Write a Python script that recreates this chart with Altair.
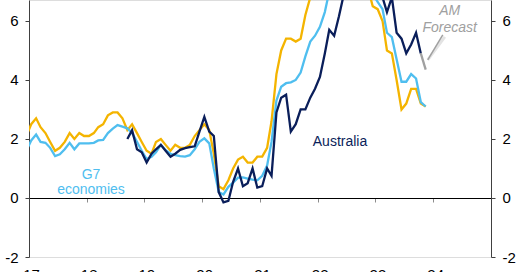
import altair as alt
import pandas as pd

# ---------------- data ----------------
months = pd.date_range("2016-12-01", "2023-11-01", freq="MS").strftime("%Y-%m").tolist()

# yellow series
us = [2.1,
      2.5, 2.7, 2.4, 2.2, 1.9, 1.6, 1.7, 1.9, 2.2, 2.0, 2.2, 2.1,
      2.1, 2.2, 2.4, 2.5, 2.8, 2.9, 2.9, 2.7, 2.3, 2.5, 2.2, 1.9,
      1.6, 1.5, 1.9, 2.0, 1.8, 1.6, 1.8, 1.7, 1.7, 1.8, 2.1, 2.3,
      2.5, 2.3, 1.5, 0.4, 0.3, 0.6, 1.0, 1.3, 1.4, 1.2, 1.2, 1.4,
      1.4, 1.7, 2.6, 4.2, 5.0, 5.4, 5.4, 5.3, 5.4, 6.2, 6.8, 7.0,
      7.5, 7.9, 8.5, 8.3, 8.6, 9.1, 8.5, 8.3, 8.2, 7.7, 7.1, 6.5,
      6.4, 6.0, 5.0, 4.9, 4.0, 3.0, 3.2, 3.7, 3.7, 3.2, 3.1]

# G7 economies
g7 = [1.6,
      1.95, 2.15, 1.9, 1.87, 1.7, 1.42, 1.48, 1.65, 1.87, 1.65, 1.85, 1.85,
      1.85, 1.87, 1.95, 1.97, 2.2, 2.35, 2.47, 2.42, 2.36, 2.2, 1.9, 1.6,
      1.32, 1.4, 1.55, 1.8, 1.62, 1.5, 1.45, 1.42, 1.4, 1.45, 1.65, 1.9,
      2.02, 1.85, 1.0, 0.2, 0.12, 0.38, 0.52, 0.69, 0.7, 0.66, 0.62, 0.6,
      0.75, 1.1, 1.9, 3.3, 3.77, 3.89, 3.92, 4.0, 4.25, 4.8, 5.3, 5.5,
      5.8, 6.3, 7.0, 7.4, 7.6, 8.0, 7.9, 7.6, 7.8, 7.7, 7.2, 6.9,
      6.65, 6.4, 5.6, 5.45, 4.7, 3.94, 3.94, 4.2, 4.05, 3.25, 3.1]

# Australia (monthly CPI indicator)
aus = [None] * 21 + [2.0, 2.3, 1.65, 1.55,
       1.2, 1.5, 1.65, 1.8, 1.6, 1.4, 1.5, 1.63, 1.69, 1.72, 1.75, 2.25,
       2.75, 2.25, 2.1, 0.2, -0.15, -0.1, 0.55, 1.0, 0.4, 0.5, 1.0, 0.35,
       0.4, 1.0, 0.75, 2.9, 3.4, 3.5, 2.25, 2.5, 3.0, 3.0, 3.4, 3.7,
       4.1, 4.9, 5.7, 5.5, 6.15, 6.9, 7.0, 6.8, 7.3, 6.9, 7.3, 8.4,
       7.4, 6.8, 6.3, 6.8, 5.6, 5.4, 4.9, 5.2, 5.6, 4.9, None]

forecast_months = ["2023-10", "2023-11"]
forecast_values = [4.9, 4.35]

tick_years = [2017, 2018, 2019, 2020, 2021, 2022, 2023, 2024]
y_ticks = [-2, 0, 2, 4, 6]

ann_text = ["AM", "Forecast"]
ann_date = ["2024-04-15", "2024-04-15"]
ann_value = [6.2, 5.63]
ptr_date = ["2024-03-02"]
ptr_date2 = ["2023-11-28"]
ptr_value = [5.53]
ptr_value2 = [4.68]

aus_label = ["Australia"]
aus_label_date = ["2022-05-22"]
aus_label_value = [1.76]
g7_label = ["G7", "economies"]
g7_label_date = ["2018-01-28", "2018-01-28"]
g7_label_value = [0.66, 0.14]

# ---------------- build ----------------
FONT = "Liberation Sans"
NAVY = "#0A1E5A"
BLUE = "#4FBEEF"
GOLD = "#F4B400"
GREY = "#a0a0a0"

def mid(m):
    return m + "-15T00:00:00"

df = pd.DataFrame({"date": [mid(m) for m in months], "us": us, "g7": g7, "aus": aus})
fc = pd.DataFrame({"date": [mid(m) for m in forecast_months], "value": forecast_values})
ann = pd.DataFrame({"date": [d + "T00:00:00" for d in ann_date], "value": ann_value, "text": ann_text})
ptr = pd.DataFrame({"date": [d + "T00:00:00" for d in ptr_date], "date2": [d + "T00:00:00" for d in ptr_date2],
                    "value": ptr_value, "value2": ptr_value2})
lab_a = pd.DataFrame({"date": [d + "T00:00:00" for d in aus_label_date], "value": aus_label_value, "text": aus_label})
lab_g = pd.DataFrame({"date": [d + "T00:00:00" for d in g7_label_date], "value": g7_label_value, "text": g7_label})

x_axis = alt.Axis(
    values=[alt.DateTime(year=y, month=1, date=1) for y in tick_years],
    format="%y", offset=-59, domainColor="#000000", domainWidth=1,
    tickColor="#8c8c8c", tickSize=4, labelPadding=65, labelFontSize=15,
    labelColor="#000000", labelFont=FONT, labelFlush=False, labelOverlap=False,
    labelOffset=2, grid=False, title=None)
x_scale = alt.Scale(domain=[alt.DateTime(year=2017, month=1, date=1),
                            alt.DateTime(year=2025, month=1, date=1)])

def X(field="date"):
    return alt.X(f"{field}:T", scale=x_scale, axis=x_axis, title=None)

y_scale = alt.Scale(domain=[-2, 6.71], nice=False, zero=False)

def Y(field, orient="left"):
    return alt.Y(f"{field}:Q", scale=y_scale, title=None,
                 axis=alt.Axis(values=y_ticks, orient=orient, domainColor="#404040",
                               tickColor="#404040", tickSize=4, labelPadding=7,
                               labelFontSize=15, labelColor="#000000", labelFont=FONT,
                               labelExpr="'' + datum.value",
                               grid=False, title=None))

base = alt.Chart(df)
l_us = base.mark_line(color=GOLD, strokeWidth=2.3, clip=True).encode(x=X(), y=Y("us"))
l_g7 = base.mark_line(color=BLUE, strokeWidth=2.3, clip=True).encode(x=X(), y=Y("g7"))
l_au = base.mark_line(color=NAVY, strokeWidth=2.3, clip=True).encode(x=X(), y=Y("aus"))

shadow = alt.Chart(ptr).mark_rule(color="#e3e3e3", strokeWidth=3, xOffset=2, yOffset=2).encode(
    x=X(), x2="date2:T", y=Y("value"), y2="value2:Q")
pointer = alt.Chart(ptr).mark_rule(color=GREY, strokeWidth=1.5).encode(
    x=X(), x2="date2:T", y=Y("value"), y2="value2:Q")
ann_t = alt.Chart(ann).mark_text(font=FONT, fontSize=14, fontStyle="italic", color=GREY,
                                 align="center", baseline="alphabetic").encode(
    x=X(), y=Y("value"), text="text:N")
lab_au = alt.Chart(lab_a).mark_text(font=FONT, fontSize=14, color=NAVY, align="center",
                                    baseline="alphabetic").encode(x=X(), y=Y("value"), text="text:N")
lab_g7 = alt.Chart(lab_g).mark_text(font=FONT, fontSize=14, color=BLUE, align="center",
                                    baseline="alphabetic").encode(x=X(), y=Y("value"), text="text:N")

inner = alt.layer(l_us, l_g7, l_au, shadow, pointer, ann_t, lab_au, lab_g7)

right = alt.Chart(fc).mark_line(color=GREY, strokeWidth=2.3, clip=True).encode(
    x=X(), y=Y("value", orient="right"))

chart = alt.layer(inner, right).resolve_scale(y="independent").properties(
    width=462, height=257,
    autosize=alt.AutoSizeParams(type="none"),
    padding={"left": 29, "top": 0, "right": 29, "bottom": 15},
).configure_view(stroke=None).configure(background="white")

chart.save("out.html", embed_options={"renderer": "svg", "actions": False})
